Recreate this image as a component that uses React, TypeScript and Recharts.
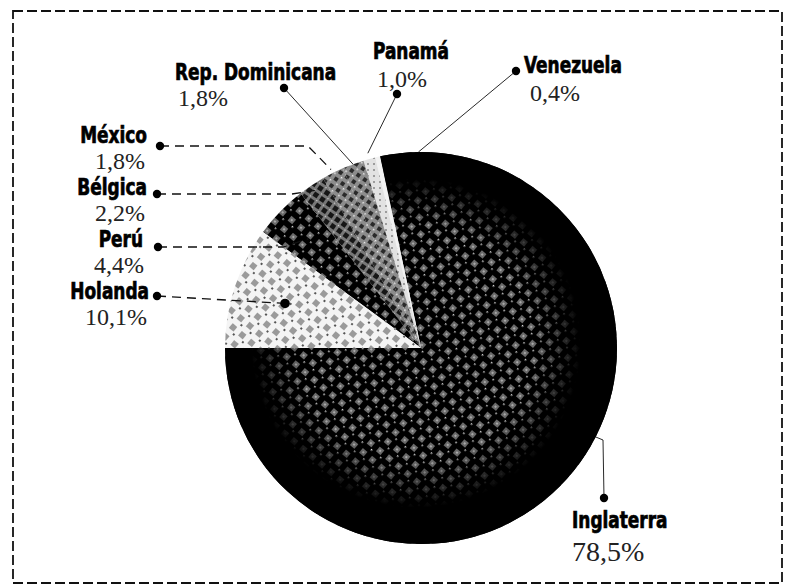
import { PieChart, Pie, Cell } from 'recharts'

const COUNTRIES = ['Inglaterra', 'Venezuela', 'Panamá', 'Rep. Dominicana', 'México', 'Bélgica', 'Perú', 'Holanda']
const SHARES = [78.5, 0.4, 1.0, 1.8, 1.8, 2.2, 4.4, 10.1]
const FILLS = [
  'url(#htDark)',
  '#f2f2f2',
  'url(#htPale)',
  'url(#htMid)',
  'url(#htMid)',
  'url(#htMid2)',
  'url(#htDark)',
  'url(#htLight)',
]

const data = COUNTRIES.map((name, i) => ({ name, value: SHARES[i] }))

const W = 787
const H = 585
const CX = 416
const CY = 343
const R = 196
const RAD = Math.PI / 180

const HEAD = '"Liberation Sans Narrow", "Arial Narrow", "DejaVu Sans Condensed", sans-serif'
const SERIF = '"Liberation Serif", "Times New Roman", serif'
const SQUEEZE = 0.82 // no narrow face installed, so squeeze the bold one

// where each label sits, and how its leader line runs to the slice
type Layout = {
  dot: [number, number]
  bend?: [number, number]
  reach: number
  turn?: number
  dashed?: boolean
  endDot?: boolean
  anchor: 'start' | 'end'
  name: [number, number]
  val: [number, number]
  valSize?: number
}

const LAYOUT: Record<string, Layout> = {
  Inglaterra: { dot: [604, 498], bend: [603, 440], reach: 1, turn: 12, anchor: 'start', name: [572, 528], val: [572, 561], valSize: 28 },
  Venezuela: { dot: [516, 71], reach: 1, turn: -12, anchor: 'start', name: [524, 73], val: [530, 101] },
  'Panamá': { dot: [397, 94], reach: 1.03, anchor: 'start', name: [373, 59], val: [377, 87] },
  'Rep. Dominicana': { dot: [284, 88], reach: 1.0, anchor: 'start', name: [175, 80], val: [178, 106] },
  'México': { dot: [160, 146], bend: [308, 146], reach: 1.02, dashed: true, anchor: 'end', name: [147, 143], val: [145, 169] },
  'Bélgica': { dot: [157, 194], bend: [292, 194], reach: 0.97, dashed: true, anchor: 'end', name: [147, 195], val: [145, 221] },
  'Perú': { dot: [158, 247], bend: [283, 247], reach: 0.8, dashed: true, anchor: 'end', name: [143, 247], val: [144, 273] },
  Holanda: { dot: [157, 296], reach: 0.73, dashed: true, endDot: true, anchor: 'end', name: [149, 299], val: [147, 325] },
}

function pct(v: number) {
  return v.toFixed(1).replace('.', ',') + '%'
}

function renderLabel(p: any) {
  const L = LAYOUT[p.name]
  if (!L) return null
  const a = -(p.midAngle + (L.turn ?? 0)) * RAD
  const r = p.outerRadius * L.reach
  const ex = p.cx + r * Math.cos(a)
  const ey = p.cy + r * Math.sin(a)
  const pts = [L.dot, ...(L.bend ? [L.bend] : []), [ex, ey]].map((q) => q.join(',')).join(' ')
  return (
    <g key={p.name}>
      <polyline
        points={pts}
        fill="none"
        stroke="#111"
        strokeWidth={L.dashed ? 1.3 : 0.9}
        strokeDasharray={L.dashed ? '9 6' : undefined}
      />
      <circle cx={L.dot[0]} cy={L.dot[1]} r={4.2} fill="#000" />
      {L.endDot && <circle cx={ex} cy={ey} r={4.8} fill="#000" />}
      <text
        transform={`translate(${L.name[0]},${L.name[1]}) scale(${SQUEEZE},1)`}
        textAnchor={L.anchor}
        fontFamily={HEAD}
        fontWeight={700}
        fontSize={23}
        fill="#000"
        stroke="#000"
        strokeWidth={0.7}
      >
        {p.name}
      </text>
      <text x={L.val[0]} y={L.val[1]} textAnchor={L.anchor} fontFamily={SERIF} fontSize={L.valSize ?? 24} fill="#222">
        {pct(p.value)}
      </text>
    </g>
  )
}

export default function App() {
  return (
    <div style={{ position: 'fixed', left: 0, top: 0, width: W, height: H, background: '#fff' }}>
      <svg width={W} height={H} style={{ position: 'absolute', left: 0, top: 0 }}>
        <rect x={13} y={11} width={769} height={572} fill="none" stroke="#111" strokeWidth={1.8} strokeDasharray="10 4" />
      </svg>
      <div style={{ position: 'absolute', left: 0, top: 0 }}>
        <PieChart width={W} height={H}>
          <defs>
            <pattern id="htDark" width="12" height="12" patternUnits="userSpaceOnUse" patternTransform="rotate(40)">
              <rect width="12" height="12" fill="#000" />
              <rect x="2" y="2" width="6" height="6" fill="#6a6a6a" />
              <rect x="4" y="4" width="2" height="2" fill="#a8a8a8" />
              <rect x="9" y="9" width="1.5" height="1.5" fill="#d8d8d8" />
            </pattern>
            <pattern id="htMid" width="8" height="8" patternUnits="userSpaceOnUse" patternTransform="rotate(35)">
              <rect width="8" height="8" fill="#8c8c8c" />
              <rect x="0" y="0" width="4" height="4" fill="#2a2a2a" />
              <rect x="5" y="5" width="1.5" height="1.5" fill="#eee" />
            </pattern>
            <pattern id="htMid2" width="8" height="8" patternUnits="userSpaceOnUse" patternTransform="rotate(35)">
              <rect width="8" height="8" fill="#777" />
              <rect x="0" y="0" width="5" height="5" fill="#161616" />
              <rect x="6" y="6" width="1.2" height="1.2" fill="#ddd" />
            </pattern>
            <pattern id="htLight" width="12" height="12" patternUnits="userSpaceOnUse" patternTransform="rotate(40)">
              <rect width="12" height="12" fill="#f4f4f4" />
              <rect x="2" y="2" width="6" height="6" fill="#9a9a9a" />
              <rect x="9" y="9" width="2" height="2" fill="#555" />
            </pattern>
            <pattern id="htPale" width="6" height="6" patternUnits="userSpaceOnUse">
              <rect width="6" height="6" fill="#e2e2e2" />
              <rect x="1" y="1" width="2" height="2" fill="#9c9c9c" />
            </pattern>
            <radialGradient id="fade" gradientUnits="userSpaceOnUse" cx={CX} cy={CY} r={R}>
              <stop offset="0.6" stopColor="#000" stopOpacity={0} />
              <stop offset="0.84" stopColor="#000" stopOpacity={1} />
              <stop offset="1" stopColor="#000" stopOpacity={1} />
            </radialGradient>
          </defs>
          <Pie
            data={data}
            dataKey="value"
            nameKey="name"
            cx={CX}
            cy={CY}
            outerRadius={R}
            startAngle={180}
            endAngle={540}
            stroke="none"
            isAnimationActive={false}
          >
            {data.map((d, i) => (
              <Cell key={d.name} fill={FILLS[i]} />
            ))}
          </Pie>
          <Pie
            data={data}
            dataKey="value"
            nameKey="name"
            cx={CX}
            cy={CY}
            outerRadius={R}
            startAngle={180}
            endAngle={540}
            stroke="none"
            label={renderLabel}
            labelLine={false}
            isAnimationActive={false}
          >
            {data.map((d, i) => (
              <Cell key={d.name} fill={i === 0 ? 'url(#fade)' : 'transparent'} />
            ))}
          </Pie>
        </PieChart>
      </div>
    </div>
  )
}
